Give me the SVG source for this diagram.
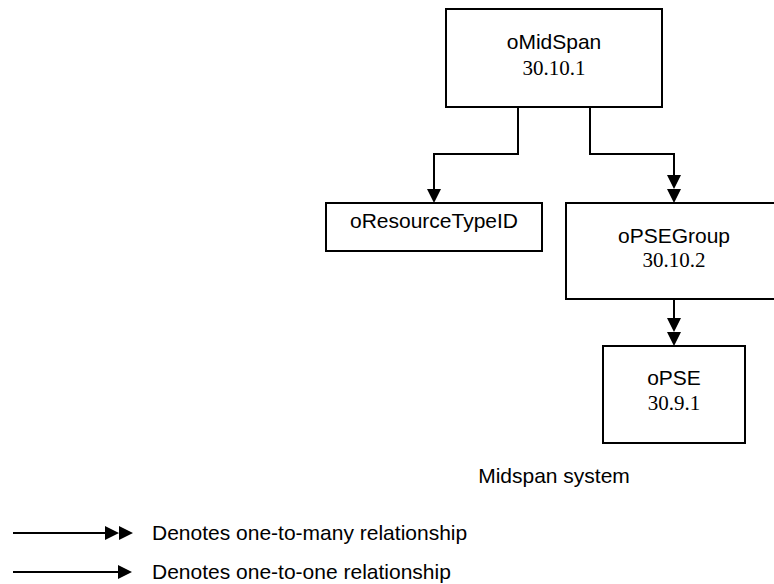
<svg xmlns="http://www.w3.org/2000/svg" width="774" height="584" viewBox="0 0 774 584">
<style>
.box{fill:#fff;stroke:#000;stroke-width:2}
.name{font-family:"Liberation Sans",Arial,sans-serif;font-size:21px;fill:#000;text-anchor:middle}
.num{font-family:"Liberation Serif","Times New Roman",serif;font-size:21px;fill:#000;text-anchor:middle}
.leg{font-family:"Liberation Sans",Arial,sans-serif;font-size:21px;fill:#000}
.conn{fill:none;stroke:#000;stroke-width:2}
</style>
<defs>
<marker id="one" markerUnits="userSpaceOnUse" viewBox="0 0 14 14" refX="0" refY="7" markerWidth="14" markerHeight="14" orient="auto">
<path d="M0,0 L14,7 L0,14 Z" fill="#000"/>
</marker>
<marker id="many" markerUnits="userSpaceOnUse" viewBox="0 0 28 14" refX="0" refY="7" markerWidth="28" markerHeight="14" orient="auto">
<path d="M0,0 L14,7 L0,14 Z M14,0 L28,7 L14,14 Z" fill="#000"/>
</marker>
</defs>
<g id="connectors">
<path class="conn" d="M518,107 V154 H434 V189" marker-end="url(#one)"/>
<path class="conn" d="M590,107 V154 H674 V175" marker-end="url(#many)"/>
<path class="conn" d="M674,299 V318" marker-end="url(#many)"/>
</g>
<g id="oMidSpan">
<rect class="box" x="446" y="9" width="216" height="98"/>
<text class="name" x="554" y="49">oMidSpan</text>
<text class="num" x="554" y="75">30.10.1</text>
</g>
<g id="oResourceTypeID">
<rect class="box" x="326" y="203" width="216" height="48"/>
<text class="name" x="434" y="228">oResourceTypeID</text>
</g>
<g id="oPSEGroup">
<rect class="box" x="566" y="203" width="216" height="96"/>
<text class="name" x="674" y="243">oPSEGroup</text>
<text class="num" x="674" y="267">30.10.2</text>
</g>
<g id="oPSE">
<rect class="box" x="603" y="346" width="142" height="97"/>
<text class="name" x="674" y="385">oPSE</text>
<text class="num" x="674" y="410">30.9.1</text>
</g>
<g id="caption">
<text class="name" x="554" y="483">Midspan system</text>
</g>
<g id="legend">
<path class="conn" d="M13,533 H105" marker-end="url(#many)"/>
<text class="leg" x="152" y="540">Denotes one-to-many relationship</text>
<path class="conn" d="M13,572 H118" marker-end="url(#one)"/>
<text class="leg" x="152" y="579">Denotes one-to-one relationship</text>
</g>
</svg>
